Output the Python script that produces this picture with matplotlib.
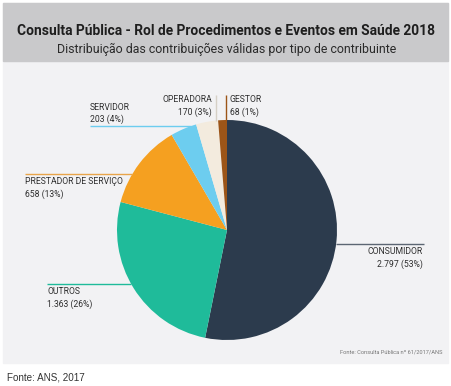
import numpy as np
import matplotlib
matplotlib.use("Agg")
from matplotlib import pyplot as plt
from matplotlib.patches import Rectangle

# data
categories = ["CONSUMIDOR", "OUTROS", "PRESTADOR DE SERVIÇO", "SERVIDOR", "OPERADORA", "GESTOR"]
values = [2797, 1363, 658, 203, 170, 68]
colors = ["#2c3b4d", "#1fbb9a", "#f5a020", "#6dcdef", "#f3ebde", "#9c5518"]
line_colors = ["#5c6673", "#1fbb9a", "#e8a54a", "#6dcdef", "#d6d0c6", "#9c5518"]

title = "Consulta Pública - Rol de Procedimentos e Eventos em Saúde 2018"
subtitle = "Distribuição das contribuições válidas por tipo de contribuinte"
source_in = "Fonte: Consulta Pública nº 61/2017/ANS"
source_out = "Fonte: ANS, 2017"

W, H = 451, 386
CX, CY, R = 227, 230, 110   # pie centre / radius in image pixels

# label layout (image pixel coords, y down)
layout = {
    "CONSUMIDOR": dict(kind="h", pos=244, end=424, tx=423, ty=252, ha="right"),
    "OUTROS": dict(kind="h", pos=284, end=47, tx=47, ty=292, ha="left"),
    "PRESTADOR DE SERVIÇO": dict(kind="h", pos=174, end=25, tx=25, ty=182, ha="left"),
    "SERVIDOR": dict(kind="h", pos=126, end=90, tx=90, ty=107, ha="left"),
    "OPERADORA": dict(kind="v", pos=216, end=95, tx=212, ty=100, ha="right"),
    "GESTOR": dict(kind="v", pos=226, end=95, tx=230, ty=100, ha="left"),
}

FONT = ["Roboto", "DejaVu Sans"]


def Y(y):
    return H - y


def fmt_value(v, total):
    s = "{:,}".format(v).replace(",", ".")
    return "{} ({:.0f}%)".format(s, round(100.0 * v / total))


def fit_size(fig, txt, width):
    # scale font size so the text spans the given pixel width
    r = fig.canvas.get_renderer()
    bb = txt.get_window_extent(r)
    return txt.get_fontsize() * width / bb.width


def main():
    fig = plt.figure(figsize=(W / 100, H / 100), dpi=100)
    ax = fig.add_axes([0, 0, 1, 1])

    # panel + header
    ax.add_patch(Rectangle((3, Y(363)), 445, 360, color="#f2f2f4", zorder=0))
    ax.add_patch(Rectangle((3, Y(61)), 445, 58, color="#c9c9cb", zorder=1))

    t = ax.text(226, Y(31), title, ha="center", va="center", fontsize=10,
                fontweight="bold", color="#1e1e1e", family=FONT)
    t.set_fontsize(fit_size(fig, t, 418))
    t = ax.text(227, Y(49), subtitle, ha="center", va="center", fontsize=10,
                color="#2a2a2a", family=FONT)
    t.set_fontsize(fit_size(fig, t, 341))

    ax.pie(values, colors=colors, startangle=90, counterclock=False,
           center=(CX, Y(CY)), radius=R, frame=True,
           wedgeprops=dict(linewidth=0))
    ax.set_xlim(0, W)
    ax.set_ylim(0, H)
    ax.axis("off")

    # label font size from the widest label
    probe = ax.text(0, 0, "PRESTADOR DE SERVIÇO", fontsize=7, family=FONT)
    lab_size = fit_size(fig, probe, 98)
    probe.remove()

    total = sum(values)
    for cat, v, lc in zip(categories, values, line_colors):
        lay = layout[cat]
        if lay["kind"] == "h":
            dy = lay["pos"] - CY
            dx = np.sqrt(R ** 2 - dy ** 2)
            xe = CX + dx if lay["end"] > CX else CX - dx
            ax.plot([lay["end"], xe], [Y(lay["pos"]), Y(lay["pos"])],
                    color=lc, lw=1, zorder=1, solid_capstyle="butt")
        else:
            dx = lay["pos"] - CX
            ye = CY - np.sqrt(R ** 2 - dx ** 2)
            ax.plot([lay["pos"], lay["pos"]], [Y(lay["end"]), Y(ye)],
                    color=lc, lw=1, zorder=1, solid_capstyle="butt")
        ax.text(lay["tx"], Y(lay["ty"]), cat, ha=lay["ha"], va="center",
                fontsize=lab_size, color="#2e2e2e", family=FONT)
        ax.text(lay["tx"], Y(lay["ty"] + 12), fmt_value(v, total), ha=lay["ha"],
                va="center", fontsize=lab_size, color="#2e2e2e", family=FONT)

    t = ax.text(443, Y(352), source_in, ha="right", va="center", fontsize=5,
                color="#777777", family=FONT)
    t.set_fontsize(fit_size(fig, t, 103))
    t = ax.text(7, Y(377), source_out, ha="left", va="center", fontsize=7.5,
                color="#333333", family=["Liberation Sans", "DejaVu Sans"])
    t.set_fontsize(fit_size(fig, t, 78))

    plt.savefig("out.png", dpi=100)


if __name__ == "__main__":
    main()
